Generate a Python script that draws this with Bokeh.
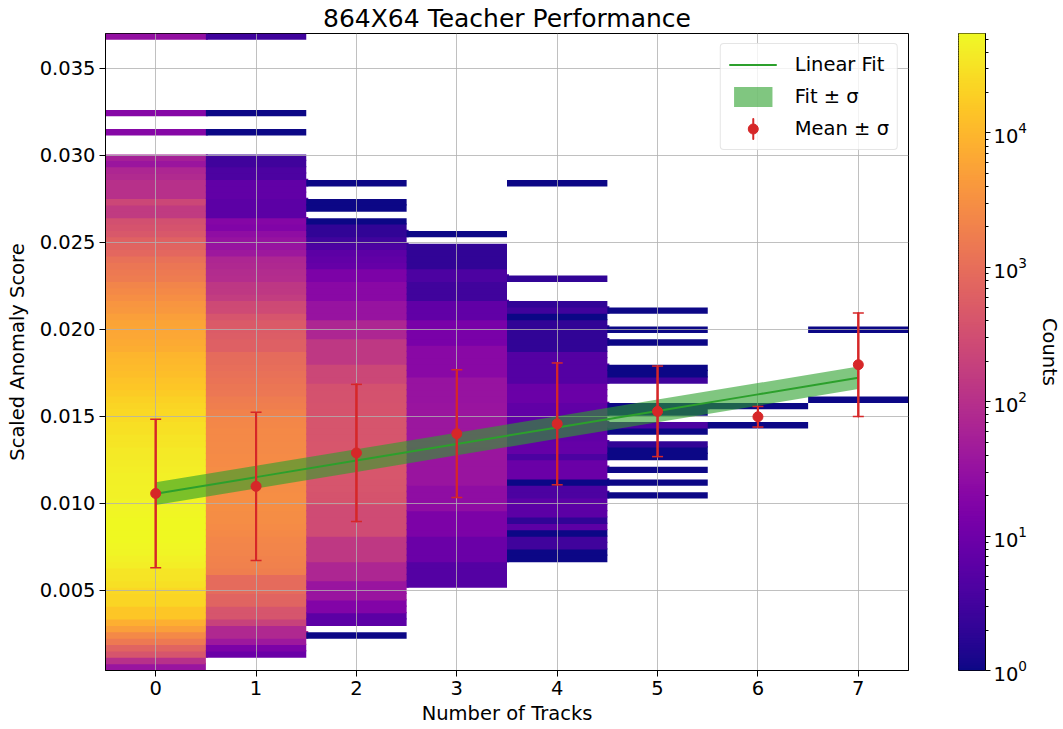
import numpy as np
from bokeh.plotting import figure
from bokeh.layouts import row
from bokeh.models import (ColumnDataSource, LogColorMapper, FixedTicker, Range1d,
                          Legend, LegendItem, PrintfTickFormatter)
from bokeh.palettes import Plasma256
from bokeh.embed import file_html
from bokeh.resources import INLINE

# ---------------- data ----------------
tracks = [0, 1, 2, 3, 4, 5, 6, 7]
y_min, y_max, n_bins = 0.0004, 0.037, 100   # histogram range / bins of the score axis
count_max = 55000

# counts per score bin (bin 0 = lowest score) for each number of tracks
counts_0 = [35, 100, 400, 700, 1500, 2500, 5000, 8000, 15000, 15000,
            22000, 22000, 24000, 30000, 32000, 34000, 42000, 46000, 50000, 52000,
            54000, 55000, 54000, 53000, 52000, 50000, 48000, 46000, 45000, 44000,
            43000, 42000, 40000, 38000, 36000, 34000, 32000, 30000, 28000, 26000,
            24000, 22000, 20000, 17000, 15000, 14000, 12000, 11000, 10000, 9500,
            7500, 7000, 6500, 6000, 5800, 5000, 4000, 3600, 3000, 2500,
            2200, 1600, 1500, 1300, 1100, 800, 700, 650, 450, 380,
            330, 150, 150, 235, 100, 100, 100, 79, 70, 37,
            55, 0, 0, 0, 20, 0, 0, 20, 0, 0,
            0, 0, 0, 0, 0, 0, 0, 0, 0, 30]
counts_1 = [0, 0, 9, 15, 40, 75, 75, 200, 400, 400,
            700, 700, 900, 900, 900, 1800, 1900, 2000, 2100, 2200,
            2300, 2500, 2700, 2800, 2900, 3000, 3000, 3000, 2900, 2900,
            2800, 2800, 2700, 2700, 2600, 2600, 2500, 2500, 2400, 2300,
            2000, 1800, 1600, 1400, 1300, 1200, 1100, 1000, 950, 900,
            620, 600, 550, 520, 500, 400, 270, 260, 160, 140,
            130, 90, 85, 75, 70, 40, 33, 32, 26, 17,
            19, 6, 6, 6, 7, 7, 7, 4, 4, 3,
            3, 0, 0, 0, 1, 0, 0, 1, 0, 0,
            0, 0, 0, 0, 0, 0, 0, 0, 0, 3]
counts_2 = [0, 0, 0, 0, 0, 1, 0, 6, 6, 18,
            18, 35, 35, 35, 70, 70, 70, 140, 140, 140,
            140, 280, 280, 280, 280, 280, 380, 380, 400, 400,
            420, 420, 420, 420, 420, 410, 400, 400, 400, 400,
            390, 380, 370, 360, 350, 235, 235, 235, 140, 140,
            140, 140, 70, 70, 70, 33, 33, 33, 22, 22,
            22, 15, 15, 8, 7, 6, 4, 3, 2, 2,
            1, 0, 1, 1, 0, 0, 1, 0, 0, 0,
            0, 0, 0, 0, 0, 0, 0, 0, 0, 0,
            0, 0, 0, 0, 0, 0, 0, 0, 0, 0]
counts_3 = [0, 0, 0, 0, 0, 0, 0, 0, 0, 0,
            0, 0, 0, 5, 5, 5, 5, 9, 9, 9,
            9, 15, 15, 15, 15, 26, 26, 26, 26, 35,
            35, 35, 35, 36, 37, 38, 38, 38, 38, 38,
            36, 35, 34, 33, 33, 33, 22, 22, 22, 22,
            22, 14, 14, 14, 14, 7, 7, 7, 3, 3,
            3, 4, 4, 2, 2, 2, 2, 0, 1, 0,
            0, 0, 0, 0, 0, 0, 0, 0, 0, 0,
            0, 0, 0, 0, 0, 0, 0, 0, 0, 0,
            0, 0, 0, 0, 0, 0, 0, 0, 0, 0]
counts_4 = [0, 0, 0, 0, 0, 0, 0, 0, 0, 0,
            0, 0, 0, 0, 0, 0, 0, 1, 1, 3,
            3, 1, 6, 2, 6, 6, 6, 4, 4, 1,
            9, 9, 9, 4, 8, 8, 7, 7, 7, 7,
            7, 7, 9, 9, 9, 5, 5, 5, 5, 5,
            2, 2, 2, 2, 2, 1, 3, 2, 0, 0,
            0, 2, 0, 0, 0, 0, 0, 0, 0, 0,
            0, 0, 0, 0, 0, 0, 1, 0, 0, 0,
            0, 0, 0, 0, 0, 0, 0, 0, 0, 0,
            0, 0, 0, 0, 0, 0, 0, 0, 0, 0]
counts_5 = [0, 0, 0, 0, 0, 0, 0, 0, 0, 0,
            0, 0, 0, 0, 0, 0, 0, 0, 0, 0,
            0, 0, 0, 0, 0, 0, 0, 1, 0, 1,
            0, 1, 0, 1, 1, 2, 0, 1, 4, 0,
            1, 1, 0, 0, 0, 3, 1, 1, 0, 0,
            0, 1, 0, 1, 0, 0, 1, 0, 0, 0,
            0, 0, 0, 0, 0, 0, 0, 0, 0, 0,
            0, 0, 0, 0, 0, 0, 0, 0, 0, 0,
            0, 0, 0, 0, 0, 0, 0, 0, 0, 0,
            0, 0, 0, 0, 0, 0, 0, 0, 0, 0]
counts_6 = [0] * 38 + [1, 0, 0, 1] + [0] * 58
counts_7 = [0] * 42 + [1] + [0] * 10 + [1] + [0] * 46

mean_score = [0.01057, 0.01098, 0.01290, 0.01401, 0.01457, 0.01529, 0.01498, 0.01797]
std_score = [0.00426, 0.00426, 0.00394, 0.00367, 0.00350, 0.00260, 0.00059, 0.00297]

fit_slope = 0.000951
fit_intercept = 0.01056
fit_sigma = 0.00065

y_ticks = [0.005, 0.010, 0.015, 0.020, 0.025, 0.030, 0.035]
cbar_ticks = ["1", "10", "100", "1000", "10000"]
cbar_labels = ["10⁰", "10¹", "10²", "10³", "10⁴"]

# ---------------- styling ----------------
FONT = "DejaVu Sans"
FS = "19.5px"
RED = "#d62728"
GREEN = "#2ca02c"
H = 729
TOP_FS = "25px"
BOTTOM = 59

# ---------------- histogram source ----------------
columns = [counts_0, counts_1, counts_2, counts_3, counts_4, counts_5, counts_6, counts_7]
edges = np.linspace(y_min, y_max, n_bins + 1)
bin_h = edges[1] - edges[0]
left, right, bottom, top, cnt = [], [], [], [], []
for j, (t, col) in enumerate(zip(tracks, columns)):
    nxt = columns[j + 1] if j + 1 < len(columns) else [0] * n_bins
    for i, c in enumerate(col):
        if c > 0:
            # tiny overlap under the following (later-drawn) neighbour hides anti-alias seams
            up = 0.2 * bin_h if (i + 1 < n_bins and col[i + 1] > 0) else 0.0
            rt = 0.02 if nxt[i] > 0 else 0.0
            left.append(t - 0.5)
            right.append(t + 0.5 + rt)
            bottom.append(edges[i])
            top.append(edges[i + 1] + up)
            cnt.append(c)
hist_src = ColumnDataSource(dict(left=left, right=right, bottom=bottom, top=top, count=cnt))
mapper = LogColorMapper(palette=Plasma256, low=1, high=count_max)

# ---------------- main figure ----------------
p = figure(width=938, height=H, x_range=Range1d(-0.5, 7.5), y_range=Range1d(y_min, y_max),
           output_backend="svg", toolbar_location=None,
           min_border_left=105, min_border_right=30, min_border_top=0, min_border_bottom=BOTTOM)
p.title.text = "864X64 Teacher Performance"
p.title.align = "center"
p.title.text_font = FONT
p.title.text_font_size = TOP_FS
p.title.text_font_style = "normal"
p.title.text_color = "black"
p.title.standoff = 2

p.quad(source=hist_src, left="left", right="right", bottom="bottom", top="top",
       fill_color={"field": "count", "transform": mapper},
       line_color=None, level="image")

xs = np.array(tracks, dtype=float)
fit_y = fit_intercept + fit_slope * xs
band_r = p.varea(x=xs, y1=fit_y - fit_sigma, y2=fit_y + fit_sigma,
                 fill_color=GREEN, fill_alpha=0.6)
line_r = p.line(xs, fit_y, line_color=GREEN, line_width=2)

mean = np.array(mean_score)
std = np.array(std_score)
p.segment(x0=xs, y0=mean - std, x1=xs, y1=mean + std, line_color=RED, line_width=2)
p.scatter(x=np.concatenate([xs, xs]), y=np.concatenate([mean - std, mean + std]),
          marker="dash", size=11, line_color=RED, line_width=1.5)
bar_proxy = p.ellipse(x=xs, y=mean, width=0.002, height=2 * std,
                      fill_color=None, line_color=RED, line_width=2)
mean_r = p.scatter(x=xs, y=mean, marker="circle", size=10, fill_color=RED, line_color=RED)

legend = Legend(items=[LegendItem(label="Linear Fit", renderers=[line_r]),
                       LegendItem(label="Fit ± σ", renderers=[band_r]),
                       LegendItem(label="Mean ± σ", renderers=[bar_proxy, mean_r])],
                location="top_right")
legend.label_text_font = FONT
legend.label_text_font_size = FS
legend.label_text_color = "black"
legend.glyph_width = 48
legend.glyph_height = 25
legend.spacing = 7
legend.padding = 8
legend.margin = 10
legend.label_standoff = 18
legend.border_line_color = "#cccccc"
legend.border_line_width = 1
legend.background_fill_alpha = 0.8
legend.border_radius = 4
p.add_layout(legend)

p.xaxis.ticker = FixedTicker(ticks=tracks)
p.yaxis.ticker = FixedTicker(ticks=y_ticks)
p.xgrid.ticker = FixedTicker(ticks=tracks)
p.ygrid.ticker = FixedTicker(ticks=y_ticks)
p.yaxis.formatter = PrintfTickFormatter(format="%.3f")
p.xaxis.axis_label = "Number of Tracks"
p.yaxis.axis_label = "Scaled Anomaly Score"
for ax in (p.xaxis, p.yaxis):
    ax.axis_label_text_font = FONT
    ax.axis_label_text_font_size = FS
    ax.axis_label_text_font_style = "normal"
    ax.axis_label_text_color = "black"
    ax.major_label_text_font = FONT
    ax.major_label_text_font_size = FS
    ax.major_label_text_color = "black"
    ax.major_tick_in = 0
    ax.major_tick_out = 6
    ax.major_tick_line_color = "black"
    ax.minor_tick_line_color = None
    ax.axis_line_color = "black"
p.xaxis.major_label_standoff = 4
p.xaxis.axis_label_standoff = 4
p.yaxis.major_label_standoff = 4
p.yaxis.axis_label_standoff = 8
p.grid.grid_line_color = "#b0b0b0"
p.grid.grid_line_alpha = 0.8
p.grid.grid_line_width = 1
p.outline_line_color = "black"
p.outline_line_alpha = 1
p.outline_line_width = 1

# ---------------- colour bar figure ----------------
p2 = figure(width=125, height=H, x_range=Range1d(0, 1), y_range=Range1d(1, count_max),
            y_axis_type="log", y_axis_location="right",
            output_backend="svg", toolbar_location=None,
            min_border_left=20, min_border_right=72, min_border_top=0, min_border_bottom=BOTTOM)
p2.title.text = " "
p2.title.text_font = FONT
p2.title.text_font_size = TOP_FS
p2.title.standoff = 2
levels = np.logspace(0, np.log10(count_max), 257)
p2.quad(left=0, right=1, bottom=levels[:-1], top=levels[1:] * 1.02,
        fill_color=list(Plasma256), line_color=None)
p2.xaxis.visible = False
p2.grid.visible = False
p2.outline_line_color = "black"
p2.outline_line_alpha = 1
minor = [k * 10 ** e for e in range(0, 5) for k in range(2, 10) if k * 10 ** e <= count_max]
p2.yaxis.ticker = FixedTicker(ticks=[int(t) for t in cbar_ticks], minor_ticks=minor)
p2.yaxis.major_label_overrides = dict(zip(cbar_ticks, cbar_labels))
p2.yaxis.axis_label = "Counts"
p2.yaxis.axis_label_text_font = FONT
p2.yaxis.axis_label_text_font_size = FS
p2.yaxis.axis_label_text_font_style = "normal"
p2.yaxis.axis_label_text_color = "black"
p2.yaxis.major_label_text_font = FONT
p2.yaxis.major_label_text_font_size = FS
p2.yaxis.major_label_text_color = "black"
p2.yaxis.major_tick_in = 0
p2.yaxis.major_tick_out = 5
p2.yaxis.minor_tick_in = 0
p2.yaxis.minor_tick_out = 3
p2.yaxis.major_tick_line_color = "black"
p2.yaxis.minor_tick_line_color = "black"
p2.yaxis.axis_line_color = "black"
p2.yaxis.major_label_standoff = 3
p2.yaxis.axis_label_standoff = 8

layout = row(p, p2)
open("out.html", "w").write(file_html(layout, INLINE))
